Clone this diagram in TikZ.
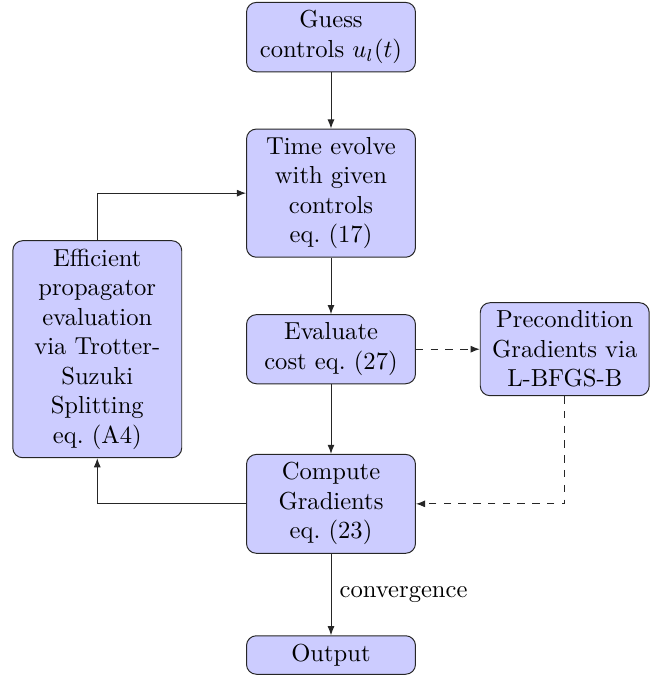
\documentclass[tikz,border=0pt]{standalone}
\usepackage{tikz}
\usetikzlibrary{positioning,arrows.meta}
\usepackage{amsmath}
\tikzset{
    block/.style={rectangle, rounded corners, draw=black!85, fill=blue!20, text width=2.18cm, align=center},
    flow arrow/.style={-{Latex[length=1.3mm,width=1mm]}, draw=black!85},
    hint arrow/.style={flow arrow, dashed}
}
\begin{document}
\begin{tikzpicture}
    \useasboundingbox (-4.73,-4.87) rectangle (4.87,4.99);

    % Main column
    \node[block] (guess) at (0,4.46) {Guess\\ controls $u_l(t)$};
    \node[block] (evolve) at (0,2.23) {Time evolve\\ with given\\ controls\\ eq.~(17)};
    \node[block] (cost) at (0,0) {Evaluate\\ cost eq.~(27)};
    \node[block] (grad) at (0,-2.21) {Compute\\ Gradients\\ eq.~(23)};
    \node[block] (output) at (0,-4.37) {Output};

    % Side boxes
    \node[block] (trotter) at (-3.34,0) {Efficient\\ propagator\\ evaluation\\ via Trotter-\\ Suzuki\\ Splitting\\ eq.~(A4)};
    \node[block] (lbfgs) at (3.34,0) {Precondition\\ Gradients via\\ L-BFGS-B};

    % Arrows
    \draw[flow arrow] (guess) -- (evolve);
    \draw[flow arrow] (evolve) -- (cost);
    \draw[flow arrow] (cost) -- (grad);
    \draw[flow arrow] (grad) -- node[right] {convergence} (output);
    \draw[flow arrow] (grad.west) -| (trotter.south);
    \draw[flow arrow] (trotter.north) |- (evolve.west);
    \draw[hint arrow] (cost.east) -- (lbfgs.west);
    \draw[hint arrow] (lbfgs.south) |- (grad.east);
\end{tikzpicture}
\end{document}
